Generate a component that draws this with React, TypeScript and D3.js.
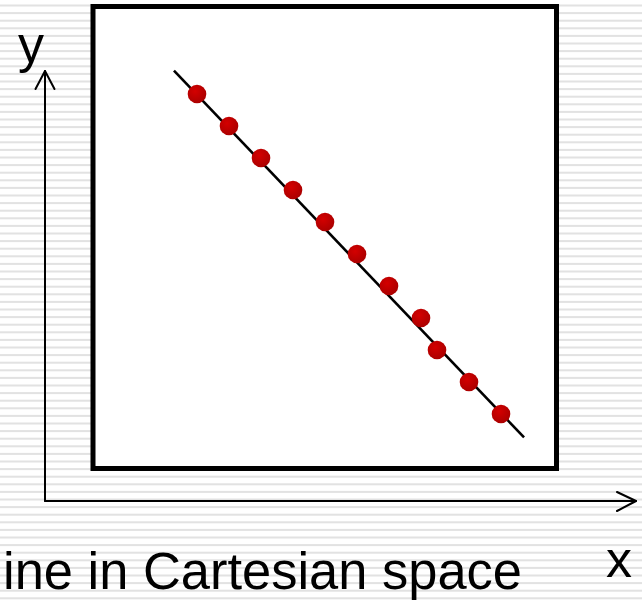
import React from "react";
import * as d3 from "d3";

// Sample points lying close to a straight line
const pointX = [1, 2, 3, 4, 5, 6, 7, 8, 8.5, 9.5, 10.5];
const pointY = [10, 9, 8, 7, 6, 5, 4, 3, 2, 1, 0];

// Fitted line end points
const lineX = [0.28, 11.22];
const lineY = [10.73, -0.73];

const caption = "ine in Cartesian space";
const axisLabels = ["x", "y"];

const W = 642;
const H = 600;

export default function App() {
  const x = d3.scaleLinear().domain([1, 10.5]).range([197, 501]);
  const y = d3.scaleLinear().domain([0, 10]).range([414, 94]);

  const stripes = d3.range(4.5, H, 7.6);
  const linePath = d3
    .line<number>()
    .x((_, i) => x(lineX[i]))
    .y((_, i) => y(lineY[i]))(lineX);

  const font = "'Liberation Sans', Arial, sans-serif";

  return (
    <svg
      width={W}
      height={H}
      viewBox={`0 0 ${W} ${H}`}
      style={{ position: "fixed", left: 0, top: 0, display: "block", background: "#fff" }}
    >
      <defs>
        <radialGradient id="dot" cx="40%" cy="35%" r="70%">
          <stop offset="0%" stopColor="#d40000" />
          <stop offset="100%" stopColor="#a80000" />
        </radialGradient>
      </defs>
      {/* striped backdrop */}
      <g>
        {stripes.map((s, i) => (
          <rect key={i} x={0} y={s} width={W} height={2} fill="#e2e2e2" />
        ))}
      </g>

      {/* framed plot panel */}
      <rect x={93} y={6.5} width={463.5} height={462} fill="#fff" stroke="#000" strokeWidth={5} />

      {/* coordinate axes */}
      <g stroke="#000" strokeWidth={2} fill="none" strokeLinecap="round" strokeLinejoin="round">
        <path d="M45,501 L45,71" />
        <path d="M35.5,89 L45,71 L54.5,89" />
        <path d="M45,501 L636,501" />
        <path d="M617,492 L636,501 L617,511" />
      </g>

      {/* fitted line */}
      <path d={linePath ?? ""} stroke="#000" strokeWidth={2.6} fill="none" />

      {/* points */}
      <g>
        {pointX.map((px, i) => (
          <circle key={i} cx={x(px)} cy={y(pointY[i])} r={9.3} fill="url(#dot)" />
        ))}
      </g>

      {/* labels */}
      <text x={619} y={577} fontFamily={font} fontSize={52} textAnchor="middle" fill="#000">
        {axisLabels[0]}
      </text>
      <text x={31} y={62} fontFamily={font} fontSize={52} textAnchor="middle" fill="#000">
        {axisLabels[1]}
      </text>
      <text
        x={3}
        y={588.5}
        fontFamily={font}
        fontSize={51}
        textLength={519}
        lengthAdjust="spacingAndGlyphs"
        fill="#000"
      >
        {caption}
      </text>
    </svg>
  );
}
